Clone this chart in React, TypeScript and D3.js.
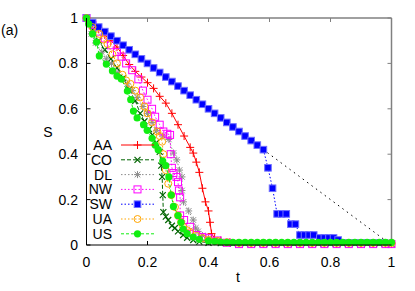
import React from "react";
import * as d3 from "d3";

type Pt = [number, number];

const xTicks = [0, 0.2, 0.4, 0.6, 0.8, 1];
const yTicks = [0, 0.2, 0.4, 0.6, 0.8, 1];
const xTickLabels = ["0", "0.2", "0.4", "0.6", "0.8", "1"];
const yTickLabels = ["0", "0.2", "0.4", "0.6", "0.8", "1"];
const seriesNames = ["AA", "CO", "DL", "NW", "SW", "UA", "US"];

const refLine: Pt[] = [[0, 1], [1, 0]];

const AA: Pt[] = [
  [0, 1], [0.02, 0.975], [0.04, 0.95], [0.06, 0.925], [0.08, 0.9], [0.1, 0.872], [0.12, 0.835],
  [0.14, 0.795], [0.16, 0.765], [0.18, 0.74], [0.2, 0.715], [0.22, 0.69], [0.24, 0.655],
  [0.26, 0.625], [0.28, 0.58], [0.3, 0.53], [0.32, 0.48], [0.34, 0.43], [0.35, 0.405],
  [0.36, 0.365], [0.37, 0.32], [0.38, 0.25], [0.39, 0.19], [0.4, 0.15], [0.405, 0.1],
  [0.41, 0.05], [0.42, 0.03], [0.44, 0.02], [0.47, 0.012], [0.5, 0.008], [0.54, 0.006],
  [0.58, 0.005], [0.62, 0.005], [0.66, 0.005], [0.7, 0.005], [0.74, 0.005], [0.78, 0.005],
  [0.82, 0.005], [0.86, 0.005], [0.9, 0.005], [0.94, 0.005], [0.98, 0.005], [1.0, 0.005],
];

const CO: Pt[] = [
  [0, 1], [0.02, 0.95], [0.04, 0.9], [0.06, 0.86], [0.08, 0.82], [0.1, 0.78], [0.12, 0.735],
  [0.14, 0.685], [0.16, 0.635], [0.176, 0.58], [0.19, 0.545], [0.205, 0.51], [0.216, 0.485],
  [0.228, 0.45], [0.24, 0.41], [0.245, 0.35], [0.248, 0.3], [0.25, 0.22], [0.252, 0.145],
  [0.26, 0.125], [0.268, 0.11], [0.28, 0.085], [0.29, 0.075], [0.3, 0.06], [0.317, 0.044],
  [0.33, 0.032], [0.35, 0.022], [0.37, 0.015], [0.4, 0.01], [0.44, 0.008], [0.48, 0.006],
  [0.52, 0.006], [0.56, 0.006], [0.6, 0.006], [0.64, 0.006], [0.68, 0.006], [0.72, 0.006],
  [0.76, 0.006], [0.8, 0.006], [0.84, 0.006], [0.88, 0.006], [0.92, 0.006], [0.96, 0.006], [1.0, 0.006],
];

const DL: Pt[] = [
  [0, 1], [0.016, 0.93], [0.03, 0.89], [0.05, 0.85], [0.065, 0.82], [0.082, 0.8], [0.1, 0.76],
  [0.12, 0.73], [0.134, 0.71], [0.15, 0.68], [0.166, 0.65], [0.185, 0.61], [0.2, 0.58],
  [0.215, 0.54], [0.23, 0.505], [0.25, 0.48], [0.27, 0.465], [0.285, 0.405], [0.296, 0.375],
  [0.305, 0.33], [0.313, 0.3], [0.313, 0.24], [0.318, 0.19], [0.335, 0.15], [0.35, 0.11],
  [0.358, 0.075], [0.366, 0.06], [0.38, 0.042], [0.4, 0.03], [0.43, 0.02], [0.46, 0.012],
  [0.5, 0.008], [0.54, 0.008], [0.58, 0.008], [0.62, 0.008], [0.66, 0.008], [0.7, 0.008],
  [0.74, 0.008], [0.78, 0.008], [0.82, 0.008], [0.86, 0.008], [0.9, 0.008], [0.94, 0.008],
  [0.98, 0.008], [1.0, 0.008],
];

const NW: Pt[] = [
  [0, 1], [0.02, 0.97], [0.04, 0.94], [0.06, 0.91], [0.08, 0.88], [0.1, 0.85], [0.115, 0.83],
  [0.13, 0.8], [0.15, 0.77], [0.17, 0.73], [0.185, 0.68], [0.2, 0.64], [0.215, 0.6],
  [0.225, 0.565], [0.24, 0.53], [0.252, 0.5], [0.265, 0.49], [0.274, 0.485], [0.276, 0.4],
  [0.28, 0.34], [0.285, 0.317], [0.295, 0.3], [0.3, 0.277], [0.303, 0.24], [0.307, 0.21],
  [0.307, 0.13], [0.32, 0.11], [0.34, 0.08], [0.36, 0.044], [0.38, 0.035], [0.4, 0.03],
  [0.43, 0.02], [0.46, 0.01], [0.5, 0.004], [0.54, 0.004], [0.58, 0.004], [0.62, 0.004],
  [0.66, 0.004], [0.7, 0.004], [0.74, 0.004], [0.78, 0.004], [0.82, 0.004], [0.86, 0.004],
  [0.9, 0.004], [0.94, 0.004], [0.98, 0.004], [1.0, 0.004],
];

const SW: Pt[] = [
  [0, 1], [0.02, 0.98], [0.04, 0.96], [0.06, 0.94], [0.08, 0.92], [0.1, 0.9], [0.12, 0.88],
  [0.14, 0.86], [0.16, 0.84], [0.18, 0.82], [0.2, 0.8], [0.22, 0.78], [0.24, 0.76],
  [0.26, 0.74], [0.28, 0.72], [0.3, 0.7], [0.32, 0.68], [0.34, 0.66], [0.36, 0.64],
  [0.38, 0.62], [0.4, 0.6], [0.42, 0.58], [0.44, 0.56], [0.46, 0.54], [0.48, 0.52],
  [0.5, 0.5], [0.52, 0.48], [0.54, 0.46], [0.56, 0.44], [0.58, 0.42], [0.595, 0.34],
  [0.61, 0.25], [0.625, 0.137], [0.64, 0.137], [0.655, 0.137], [0.67, 0.092], [0.685, 0.092],
  [0.7, 0.044], [0.715, 0.044], [0.73, 0.044], [0.745, 0.044], [0.765, 0.031], [0.78, 0.031],
  [0.795, 0.031], [0.81, 0.031], [0.825, 0.022],
];
const SWtail: Pt[] = [[0.825, 0.022], [0.99, 0.022]];

const UA: Pt[] = [
  [0, 1], [0.02, 0.96], [0.042, 0.93], [0.055, 0.905], [0.069, 0.885], [0.085, 0.84], [0.1, 0.8],
  [0.118, 0.75], [0.13, 0.725], [0.144, 0.71], [0.16, 0.68], [0.176, 0.65], [0.19, 0.61],
  [0.2, 0.58], [0.215, 0.54], [0.232, 0.5], [0.24, 0.48], [0.248, 0.455], [0.252, 0.4],
  [0.26, 0.33], [0.268, 0.27], [0.278, 0.22], [0.29, 0.167], [0.3, 0.13], [0.31, 0.1],
  [0.317, 0.08], [0.33, 0.065], [0.34, 0.057], [0.36, 0.04], [0.38, 0.03], [0.4, 0.022],
  [0.43, 0.018], [0.46, 0.012], [0.5, 0.009], [0.54, 0.009], [0.58, 0.009], [0.62, 0.009],
  [0.66, 0.009], [0.7, 0.009], [0.74, 0.009], [0.78, 0.009], [0.82, 0.009], [0.86, 0.009],
  [0.9, 0.009], [0.94, 0.009], [0.98, 0.009], [1.0, 0.009],
];

const US: Pt[] = [
  [0, 1], [0.007, 0.974], [0.02, 0.93], [0.033, 0.894], [0.042, 0.833], [0.065, 0.797],
  [0.085, 0.767], [0.1, 0.744], [0.114, 0.731], [0.134, 0.678], [0.145, 0.64], [0.154, 0.59],
  [0.166, 0.56], [0.187, 0.53], [0.199, 0.505], [0.215, 0.47], [0.225, 0.44], [0.235, 0.42],
  [0.25, 0.37], [0.26, 0.35], [0.27, 0.3], [0.278, 0.22], [0.285, 0.17], [0.3, 0.13],
  [0.31, 0.1], [0.317, 0.07], [0.33, 0.05], [0.35, 0.035], [0.37, 0.025], [0.4, 0.018],
  [0.42, 0.015], [0.44, 0.013], [0.46, 0.012], [0.48, 0.012], [0.5, 0.012], [0.52, 0.012],
  [0.54, 0.012], [0.56, 0.012], [0.58, 0.012], [0.6, 0.012], [0.62, 0.012], [0.64, 0.012],
  [0.66, 0.012], [0.68, 0.012], [0.7, 0.012], [0.72, 0.012], [0.74, 0.012], [0.76, 0.012],
  [0.78, 0.012], [0.8, 0.012], [0.82, 0.012], [0.84, 0.012], [0.86, 0.012], [0.88, 0.012],
  [0.9, 0.012], [0.92, 0.012], [0.94, 0.012], [0.96, 0.012], [0.98, 0.012], [1.0, 0.012],
];

type Marker = "plus" | "cross" | "star" | "sqOpen" | "sqFill" | "circOpen" | "circFill";
interface Series { name: string; data: Pt[]; tail?: Pt[]; color: string; dash: string; marker: Marker; }

const seriesList: Series[] = [
  { name: seriesNames[0], data: AA, color: "#ff0000", dash: "none", marker: "plus" },
  { name: seriesNames[1], data: CO, color: "#006400", dash: "4,2", marker: "cross" },
  { name: seriesNames[2], data: DL, color: "#8c8c8c", dash: "1.5,2", marker: "star" },
  { name: seriesNames[3], data: NW, color: "#ff00ff", dash: "1.5,2", marker: "sqOpen" },
  { name: seriesNames[4], data: SW, tail: SWtail, color: "#0000ff", dash: "1.5,2", marker: "sqFill" },
  { name: seriesNames[5], data: UA, color: "#ffa500", dash: "1.5,2", marker: "circOpen" },
  { name: seriesNames[6], data: US, color: "#11ee11", dash: "3,2", marker: "circFill" },
];

const W = 415, H = 291;
const X0 = 86.5, X1 = 391.5, Y0 = 245, Y1 = 18;
const FONT = "'Liberation Sans', Arial, Helvetica, sans-serif";

function MarkerShape({ type, x, y, color }: { type: Marker; x: number; y: number; color: string }) {
  switch (type) {
    case "plus":
      return <path d={`M${x - 4},${y}H${x + 4}M${x},${y - 4}V${y + 4}`} stroke={color} strokeWidth={1} fill="none" />;
    case "cross":
      return <path d={`M${x - 3},${y - 3}L${x + 3},${y + 3}M${x - 3},${y + 3}L${x + 3},${y - 3}`} stroke={color} strokeWidth={1.2} fill="none" />;
    case "star":
      return <path d={`M${x - 3.5},${y}H${x + 3.5}M${x},${y - 3.5}V${y + 3.5}M${x - 2.8},${y - 2.8}L${x + 2.8},${y + 2.8}M${x - 2.8},${y + 2.8}L${x + 2.8},${y - 2.8}`} stroke={color} strokeWidth={1} fill="none" />;
    case "sqOpen":
      return <rect x={x - 3.5} y={y - 3.5} width={7} height={7} stroke={color} strokeWidth={1} fill="none" />;
    case "sqFill":
      return <rect x={x - 3.3} y={y - 3.3} width={6.6} height={6.6} stroke="#7070ff" strokeWidth={1} fill={color} />;
    case "circOpen":
      return <circle cx={x} cy={y} r={3.5} stroke={color} strokeWidth={1} fill="none" />;
    case "circFill":
      return <circle cx={x} cy={y} r={3.6} fill={color} />;
  }
}

export default function App() {
  const x = d3.scaleLinear().domain([0, 1]).range([X0, X1]);
  const y = d3.scaleLinear().domain([0, 1]).range([Y0, Y1]);
  const line = d3.line<Pt>().x((d) => x(d[0])).y((d) => y(d[1]));

  const legX = 112, legLine0 = 121, legLine1 = 154, legY0 = 145, legDy = 14.8;

  return (
    <svg width={W} height={H} style={{ position: "absolute", left: 0, top: 0, background: "#fff" }} fontFamily={FONT}>
      <rect width={W} height={H} fill="#fff" />
      <line x1={X0} x2={X1} y1={Y1} y2={Y1} stroke="#808080" strokeWidth={1.5} />
      <line x1={X1} x2={X1} y1={Y1} y2={Y0} stroke="#808080" strokeWidth={1.5} />
      {xTicks.map((t, i) => (
        <g key={"xt" + i}>
          <line x1={x(t)} x2={x(t)} y1={Y0} y2={Y0 - 4} stroke="#000" strokeWidth={1} />
          <line x1={x(t)} x2={x(t)} y1={Y1} y2={Y1 + 4} stroke="#808080" strokeWidth={1} />
          <text x={x(t)} y={267} fontSize={14} textAnchor="middle" fill="#000">{xTickLabels[i]}</text>
        </g>
      ))}
      {yTicks.map((t, i) => (
        <g key={"yt" + i}>
          <line x1={X0} x2={X0 + 4} y1={y(t)} y2={y(t)} stroke="#000" strokeWidth={1} />
          <line x1={X1} x2={X1 - 4} y1={y(t)} y2={y(t)} stroke="#808080" strokeWidth={1} />
          <text x={78} y={y(t) + 5} fontSize={14} textAnchor="end" fill="#000">{yTickLabels[i]}</text>
        </g>
      ))}
      <text x={238} y={282} fontSize={14} textAnchor="middle">t</text>
      <text x={48} y={137} fontSize={14} textAnchor="middle">S</text>
      <text x={1} y={35} fontSize={14}>(a)</text>

      <path d={line(refLine) || ""} stroke="#000" strokeWidth={1} strokeDasharray="1.5,4" fill="none" />

      {seriesList.map((s) => (
        <g key={s.name}>
          <path d={line(s.data) || ""} stroke={s.color} strokeWidth={1} strokeDasharray={s.dash} fill="none" />
          {s.tail && <path d={line(s.tail) || ""} stroke={s.color} strokeWidth={1} fill="none" />}
          {s.data.map((d, i) => (
            <MarkerShape key={i} type={s.marker} x={x(d[0])} y={y(d[1])} color={s.color} />
          ))}
        </g>
      ))}

      {seriesList.map((s, i) => {
        const ly = legY0 + i * legDy;
        return (
          <g key={"leg" + s.name}>
            <text x={legX} y={ly + 5} fontSize={14} textAnchor="end" fill="#000">{s.name}</text>
            <line x1={legLine0} x2={legLine1} y1={ly} y2={ly} stroke={s.color} strokeWidth={1} strokeDasharray={s.dash} />
            <MarkerShape type={s.marker} x={(legLine0 + legLine1) / 2} y={ly} color={s.color} />
          </g>
        );
      })}

      <line x1={X0} x2={X0} y1={Y1} y2={Y0} stroke="#000" strokeWidth={1} />
      <line x1={X0} x2={X1} y1={Y0} y2={Y0} stroke="#000" strokeWidth={1} />
    </svg>
  );
}
